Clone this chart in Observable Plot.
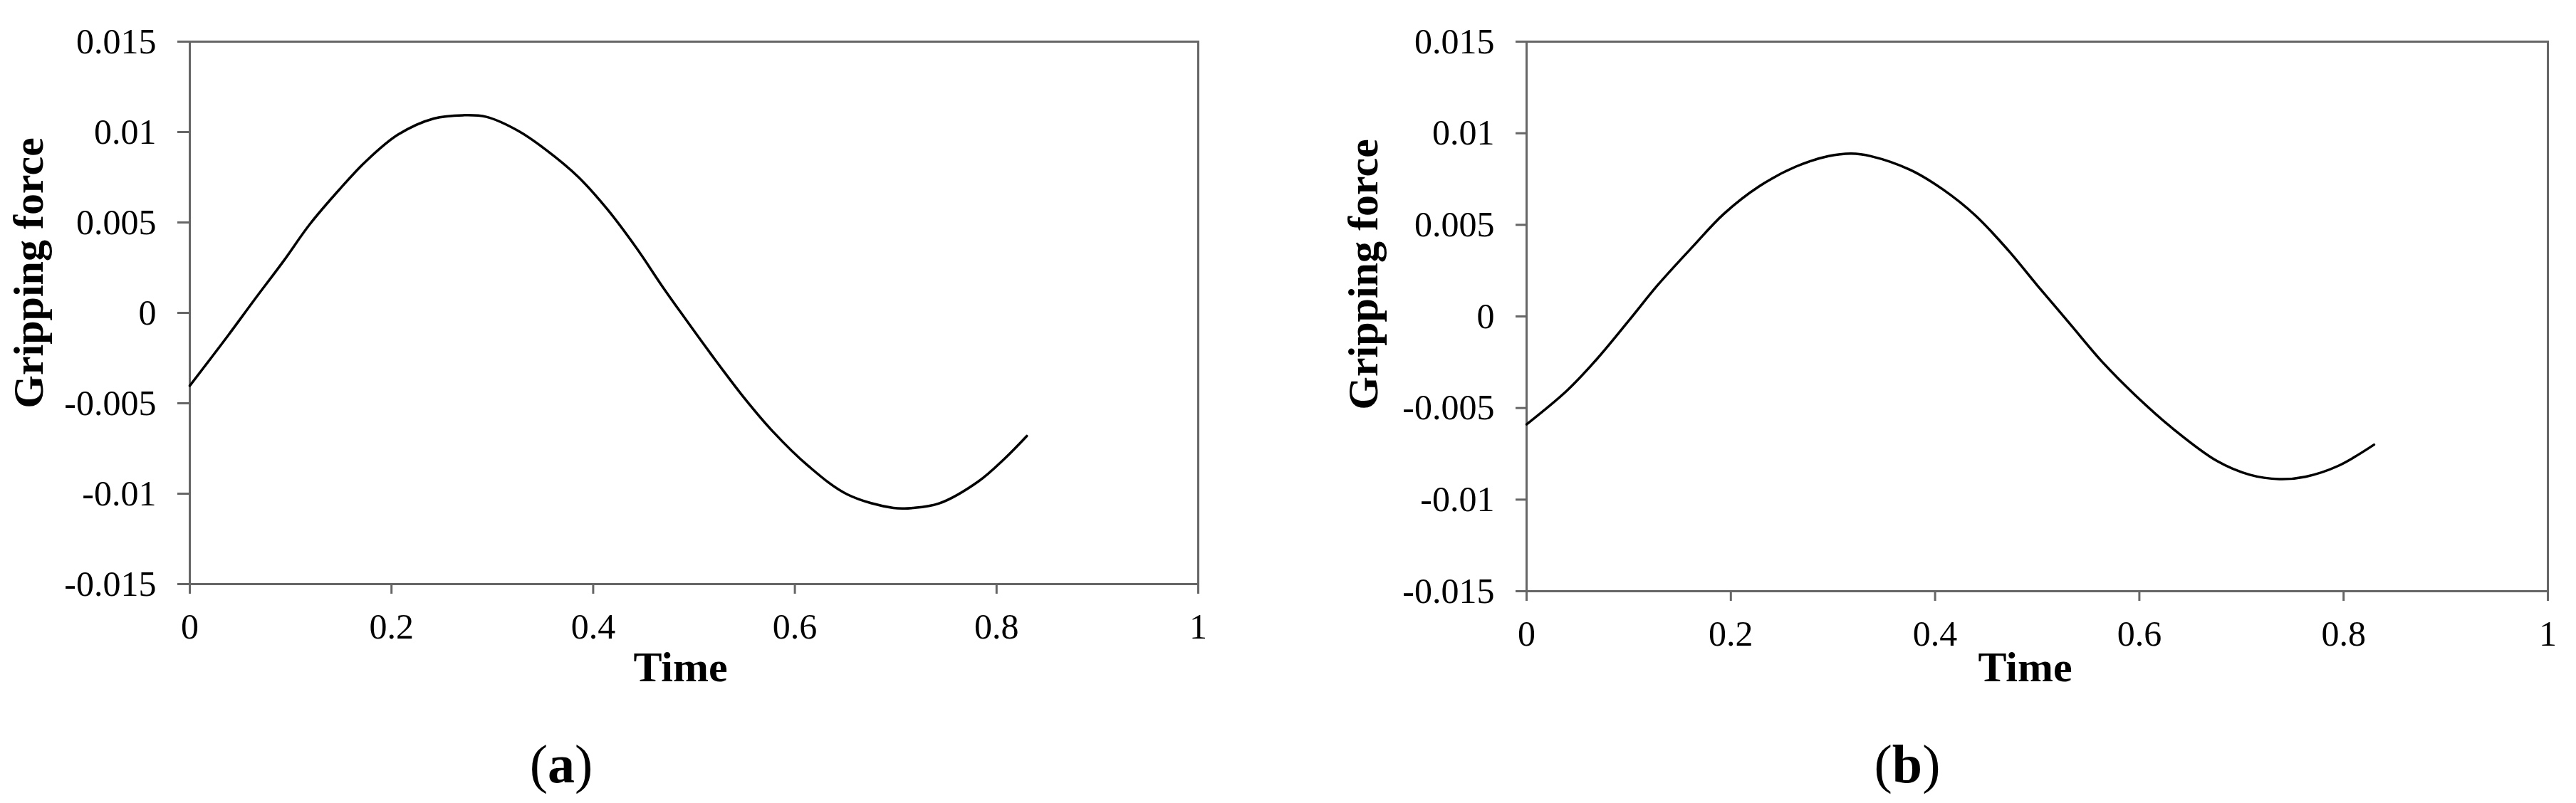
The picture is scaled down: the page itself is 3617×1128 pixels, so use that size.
<!DOCTYPE html>
<html>
<head>
<meta charset="utf-8">
<script src="https://cdn.jsdelivr.net/npm/d3@7"></script>
<script src="https://cdn.jsdelivr.net/npm/@observablehq/plot@0.6"></script>
<style>
  html, body { margin: 0; padding: 0; background: #fff; }
  #page { position: relative; width: 3617px; height: 1128px; background: #fff; overflow: hidden; }
  .panel { position: absolute; top: 0; }
  .tag { position: absolute; font-family: "Liberation Serif", "Times New Roman", serif; font-size: 76px; line-height: 1; transform: translateX(-50%); color: #000; white-space: nowrap; }
  .tag b { font-weight: bold; }
</style>
</head>
<body>
<div id="page"></div>
<script>
// ---- Data ----
const timeA  = [0, 0.038, 0.064, 0.093, 0.119, 0.148, 0.174, 0.2065, 0.242, 0.271, 0.294, 0.3265, 0.3524, 0.385, 0.414, 0.443, 0.469, 0.490, 0.516, 0.548, 0.578, 0.613, 0.652, 0.6976, 0.717, 0.743, 0.782, 0.808, 0.830];
const forceA = [-0.00403, -0.00125, 0.00072, 0.00287, 0.0049, 0.0068, 0.00835, 0.00986, 0.01075, 0.01093, 0.01084, 0.01004, 0.00905, 0.00753, 0.00573, 0.00358, 0.00143, -0.00022, -0.00222, -0.00458, -0.00655, -0.00845, -0.01004, -0.01079, -0.01079, -0.01054, -0.00932, -0.00806, -0.00681];

const timeB  = [0, 0.0395, 0.0683, 0.1004, 0.129, 0.164, 0.193, 0.228, 0.2637, 0.2957, 0.318, 0.337, 0.3757, 0.4077, 0.4397, 0.4718, 0.500, 0.532, 0.564, 0.596, 0.6345, 0.676, 0.708, 0.737, 0.7626, 0.7946, 0.8298];
const forceB = [-0.00589, -0.00405, -0.00236, -0.00021, 0.00175, 0.00389, 0.00559, 0.00711, 0.00818, 0.00875, 0.00889, 0.00875, 0.0080, 0.00693, 0.0055, 0.0036, 0.0017, -0.0004, -0.0025, -0.0043, -0.0062, -0.00789, -0.00864, -0.00888, -0.00875, -0.00816, -0.0070];

const xTicks = [0, 0.2, 0.4, 0.6, 0.8, 1];
const yTicks = [-0.015, -0.01, -0.005, 0, 0.005, 0.01, 0.015];
const xTitle = "Time";
const yTitle = "Gripping force";
const panelTags = ["a", "b"];

// ---- Drawing ----
const FONT = '"Liberation Serif", "Times New Roman", serif';
const fmt = d => String(+d.toFixed(3));

function panel(times, forces, cfg) {
  const data = times.map((t, i) => ({t, f: forces[i]}));
  return Plot.plot({
    width: cfg.width,
    height: 1128,
    marginLeft: cfg.ml, marginRight: cfg.mr, marginTop: cfg.mt, marginBottom: cfg.mb,
    style: {fontFamily: FONT, fontSize: "50px", color: "#000", background: "#fff", overflow: "visible"},
    x: {domain: [0, 1]},
    y: {domain: [-0.015, 0.015]},
    marks: [
      Plot.frame({stroke: "#666", strokeWidth: 3}),
      Plot.axisY({ticks: yTicks, tickFormat: fmt, tickSize: cfg.yTick, tickPadding: 30, stroke: "#666", strokeWidth: 3, fill: "#000", fontSize: 50, label: null}),
      Plot.axisX({ticks: xTicks, tickFormat: fmt, tickSize: 14, tickPadding: 27, stroke: "#666", strokeWidth: 3, fill: "#000", fontSize: 50, label: null}),
      Plot.line(data, {x: "t", y: "f", stroke: "#000", strokeWidth: 3.5, curve: "catmull-rom"}),
      Plot.text([yTitle], {text: d => d, frameAnchor: "left", textAnchor: "middle", lineAnchor: "middle", dx: cfg.ydx, dy: cfg.ydy, rotate: -90, fontWeight: "bold", fontSize: 60, fill: "#000"}),
      Plot.text([xTitle], {text: d => d, frameAnchor: "bottom", textAnchor: "middle", lineAnchor: "top", dx: cfg.xdx, dy: cfg.xdy, fontWeight: "bold", fontSize: 60, fill: "#000"})
    ]
  });
}

const page = document.getElementById("page");

const cfgA = {width: 1808, ml: 266, mr: 126, mt: 58, mb: 308, yTick: 17, ydx: -226, ydy: -56, xdx: -19, xdy: 94, tagX: 788};
const cfgB = {width: 1809, ml: 335, mr: 40, mt: 58, mb: 298, yTick: 15, ydx: -229, ydy: -59, xdx: -17, xdy: 84, tagX: 2678};

const a = panel(timeA, forceA, cfgA);
const wa = document.createElement("div"); wa.className = "panel"; wa.style.left = "0px"; wa.appendChild(a); page.appendChild(wa);

const b = panel(timeB, forceB, cfgB);
const wb = document.createElement("div"); wb.className = "panel"; wb.style.left = "1808px"; wb.appendChild(b); page.appendChild(wb);

[cfgA, cfgB].forEach((c, i) => {
  const tag = document.createElement("div");
  tag.className = "tag";
  tag.style.left = c.tagX + "px";
  tag.style.top = "1035px";
  tag.innerHTML = "(<b>" + panelTags[i] + "</b>)";
  page.appendChild(tag);
});
</script>
</body>
</html>
